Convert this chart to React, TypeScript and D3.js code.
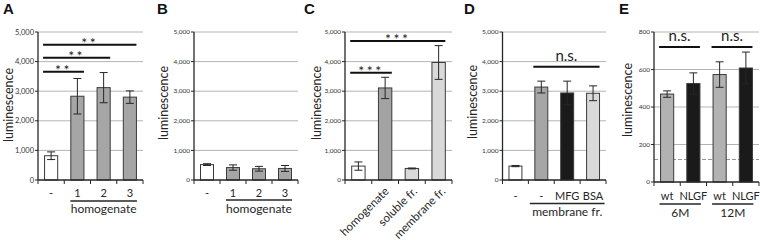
import React from "react";
import * as d3 from "d3";

// ---------- DATA ----------
const aLabels = ["-", "1", "2", "3"];
const aMeans = [820, 2830, 3120, 2800];
const aErrors = [130, 600, 510, 210];

const bLabels = ["-", "1", "2", "3"];
const bMeans = [520, 420, 380, 390];
const bErrors = [30, 90, 80, 100];

const cLabels = ["", "homogenate", "soluble fr.", "membrane fr."];
const cMeans = [470, 3110, 390, 3970];
const cErrors = [140, 360, 15, 570];

const dLabels = ["-", "-", "MFG", "BSA"];
const dMeans = [470, 3140, 2940, 2930];
const dErrors = [20, 200, 400, 250];

const eLabels = ["wt", "NLGF", "wt", "NLGF"];
const eMeans = [469, 525, 573, 608];
const eErrors = [17, 57, 68, 85];

const ticks5000 = [0, 1000, 2000, 3000, 4000, 5000];
const ticks800 = [0, 200, 400, 600, 800];
const eThreshold = 120;

const aSig = [
  { from: 0, to: 3, value: 4570, text: "**" },
  { from: 0, to: 2, value: 4130, text: "**" },
  { from: 0, to: 1, value: 3660, text: "**" },
];
const cSig = [
  { from: 0, to: 3, value: 4700, text: "***" },
  { from: 0, to: 1, value: 3620, text: "***" },
];
const dSig = [{ from: 1, to: 3, value: 3830, text: "n.s." }];
const eSig = [
  { from: 0, to: 1, value: 720, text: "n.s." },
  { from: 2, to: 3, value: 720, text: "n.s." },
];

const abGroups = [{ from: 1, to: 3, label: "homogenate" }];
const dGroups = [{ from: 1, to: 3, label: "membrane fr." }];
const eGroups = [
  { from: 0, to: 1, label: "6M" },
  { from: 2, to: 3, label: "12M" },
];

// ---------- STYLES ----------
const WHITE = "#ffffff";
const MID = "#a6a6a6";
const LIGHT = "#d9d9d9";
const BLACK = "#1a1a1a";
const EGRAY = "#b2b2b2";
const FONT = "Lato, 'Open Sans', sans-serif";
const INK = "#262626";

type Sig = { from: number; to: number; value: number; text: string };
type Group = { from: number; to: number; label: string };

type PanelProps = {
  letter: string;
  letterX: number;
  labels: string[];
  means: number[];
  errors: number[];
  fills: string[];
  ticks: number[];
  domainMax: number;
  x0: number;
  x1: number;
  yBottom: number;
  yTop: number;
  titleX: number;
  titleY: number;
  tickFont: number;
  labelBaseline: number;
  underlineY: number;
  groupBaseline: number;
  sigs: Sig[];
  groups: Group[];
  groupPad: number;
  rotate?: boolean;
  threshold?: number;
};

function Panel(p: PanelProps) {
  const idx = p.labels.map((_, i) => i);
  const x = d3
    .scaleBand<number>()
    .domain(idx)
    .range([p.x0, p.x1])
    .paddingInner(0.5)
    .paddingOuter(0.25);
  const step = x.step();
  const bw = x.bandwidth();
  const y = d3.scaleLinear().domain([0, p.domainMax]).range([p.yBottom, p.yTop]);
  const fmt = d3.format(",");
  const boundaries = d3.range(p.labels.length + 1).map((i) => p.x0 + i * step);
  const isNs = (t: string) => t === "n.s.";
  return (
    <g>
      <text x={p.letterX} y={14} fontFamily="Arial, 'Liberation Sans', sans-serif" fontWeight="bold" fontSize={15} fill="#111">
        {p.letter}
      </text>
      {/* gridlines */}
      {p.ticks
        .filter((t) => t > 0)
        .map((t) => (
          <line key={"g" + t} x1={p.x0} x2={p.x1} y1={y(t)} y2={y(t)} stroke="#ababab" strokeWidth={0.9} />
        ))}
      {p.threshold !== undefined && (
        <line x1={p.x0} x2={p.x1} y1={y(p.threshold)} y2={y(p.threshold)} stroke="#8c8c8c" strokeWidth={0.9} strokeDasharray="4,2" />
      )}
      {/* bars */}
      {p.means.map((m, i) => (
        <rect key={"b" + i} x={x(i)!} y={y(m)} width={bw} height={y(0) - y(m)} fill={p.fills[i]} stroke="#3a3a3a" strokeWidth={1} />
      ))}
      {/* error bars */}
      {p.means.map((m, i) => {
        const cx = x(i)! + bw / 2;
        const hi = y(m + p.errors[i]);
        const lo = y(Math.max(0, m - p.errors[i]));
        return (
          <g key={"e" + i} stroke={INK} strokeWidth={1}>
            <line x1={cx} x2={cx} y1={hi} y2={lo} />
            <line x1={cx - 4} x2={cx + 4} y1={hi} y2={hi} />
            <line x1={cx - 4} x2={cx + 4} y1={lo} y2={lo} />
          </g>
        );
      })}
      {/* y axis */}
      <line x1={p.x0} x2={p.x0} y1={p.yTop} y2={p.yBottom} stroke={INK} strokeWidth={1.3} />
      {p.ticks.map((t) => (
        <g key={"t" + t}>
          <line x1={p.x0 - 3} x2={p.x0} y1={y(t)} y2={y(t)} stroke={INK} strokeWidth={1} />
          <text x={p.x0 - 4} y={y(t)} dy="0.35em" textAnchor="end" fontFamily={FONT} fontSize={p.tickFont} fill="#333">
            {fmt(t)}
          </text>
        </g>
      ))}
      {/* x axis */}
      <line x1={p.x0} x2={p.x1} y1={p.yBottom} y2={p.yBottom} stroke={INK} strokeWidth={1.3} />
      {boundaries.map((bx, i) => (
        <line key={"xt" + i} x1={bx} x2={bx} y1={p.yBottom} y2={p.yBottom + 4} stroke={INK} strokeWidth={1} />
      ))}
      {/* category labels */}
      {p.labels.map((l, i) =>
        p.rotate ? (
          <text
            key={"l" + i}
            transform={`translate(${x(i)! + bw / 2 + 3 + i * 1.5},${p.labelBaseline}) rotate(-45)`}
            textAnchor="end"
            fontFamily={FONT}
            fontSize={11.5}
            fill={INK}
          >
            {l}
          </text>
        ) : (
          <text key={"l" + i} x={x(i)! + bw / 2} y={p.labelBaseline} textAnchor="middle" fontFamily={FONT} fontSize={11} fill={INK}>
            {l}
          </text>
        )
      )}
      {/* group underlines */}
      {p.groups.map((g, i) => {
        const gx0 = x(g.from)! - p.groupPad;
        const gx1 = x(g.to)! + bw + p.groupPad;
        return (
          <g key={"grp" + i}>
            <line x1={gx0} x2={gx1} y1={p.underlineY} y2={p.underlineY} stroke={INK} strokeWidth={1.5} />
            <text x={(gx0 + gx1) / 2} y={p.groupBaseline} textAnchor="middle" fontFamily={FONT} fontSize={12} fill={INK}>
              {g.label}
            </text>
          </g>
        );
      })}
      {/* significance */}
      {p.sigs.map((s, i) => {
        const sx0 = x(s.from)! - 1.5;
        const sx1 = x(s.to)! + bw;
        const sy = y(s.value);
        return (
          <g key={"s" + i}>
            <line x1={sx0} x2={sx1} y1={sy} y2={sy} stroke="#111" strokeWidth={2} />
            <text
              x={(sx0 + sx1) / 2}
              y={isNs(s.text) ? sy - 6 : sy + 3}
              textAnchor="middle"
              fontFamily={FONT}
              fontSize={isNs(s.text) ? 15 : 14}
              letterSpacing={isNs(s.text) ? 0 : 2.5}
              fill="#222"
            >
              {s.text}
            </text>
          </g>
        );
      })}
      {/* y title */}
      <text
        transform={`translate(${p.titleX},${p.titleY}) rotate(-90)`}
        textAnchor="middle"
        fontFamily={FONT}
        fontSize={12.5}
        fill={INK}
      >
        luminescence
      </text>
    </g>
  );
}

export default function App() {
  return (
    <svg width={760} height={240} style={{ display: "block", position: "absolute", left: 0, top: 0, background: "#fff" }}>
      <Panel
        letter="A" letterX={3} labels={aLabels} means={aMeans} errors={aErrors}
        fills={[WHITE, MID, MID, MID]} ticks={ticks5000} domainMax={5000}
        x0={38} x1={143} yBottom={180} yTop={32} titleX={13} titleY={105} tickFont={7.5}
        labelBaseline={197} underlineY={201} groupBaseline={213} sigs={aSig} groups={abGroups} groupPad={0.5}
      />
      <Panel
        letter="B" letterX={157} labels={bLabels} means={bMeans} errors={bErrors}
        fills={[WHITE, MID, MID, MID]} ticks={ticks5000} domainMax={5000}
        x0={194} x1={298} yBottom={180} yTop={32} titleX={168} titleY={103} tickFont={6.5}
        labelBaseline={197} underlineY={200} groupBaseline={213} sigs={[]} groups={abGroups} groupPad={0.5}
      />
      <Panel
        letter="C" letterX={304} labels={cLabels} means={cMeans} errors={cErrors}
        fills={[WHITE, "#a3a3a3", LIGHT, LIGHT]} ticks={ticks5000} domainMax={5000}
        x0={345} x1={452} yBottom={180} yTop={32} titleX={321} titleY={103} tickFont={6.5}
        labelBaseline={192} underlineY={0} groupBaseline={0} sigs={cSig} groups={[]} groupPad={0} rotate
      />
      <Panel
        letter="D" letterX={464} labels={dLabels} means={dMeans} errors={dErrors}
        fills={[WHITE, MID, BLACK, LIGHT]} ticks={ticks5000} domainMax={5000}
        x0={502.5} x1={606} yBottom={180} yTop={32} titleX={477} titleY={102} tickFont={6.5}
        labelBaseline={200} underlineY={203.5} groupBaseline={216} sigs={dSig} groups={dGroups} groupPad={5}
      />
      <Panel
        letter="E" letterX={619} labels={eLabels} means={eMeans} errors={eErrors}
        fills={[EGRAY, BLACK, EGRAY, BLACK]} ticks={ticks800} domainMax={800}
        x0={654} x1={759} yBottom={182} yTop={32} titleX={632} titleY={100} tickFont={6.5}
        labelBaseline={200} underlineY={204} groupBaseline={216.5} sigs={eSig} groups={eGroups} groupPad={1}
        threshold={eThreshold}
      />
    </svg>
  );
}
